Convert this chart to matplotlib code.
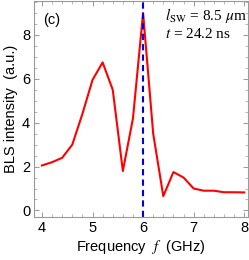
import numpy as np
import matplotlib.pyplot as plt
from matplotlib.ticker import MultipleLocator

# Data
frequencia = [4.0, 4.2, 4.4, 4.6, 4.8, 5.0, 5.2, 5.4, 5.6, 5.8, 6.0,
              6.2, 6.4, 6.6, 6.8, 7.0, 7.2, 7.4, 7.6, 7.8, 8.0]
intensidade = [2.05, 2.2, 2.4, 3.0, 4.4, 5.95, 6.75, 5.5, 1.8, 4.2, 9.0,
               3.5, 0.65, 1.75, 1.5, 1.0, 0.9, 0.9, 0.83, 0.83, 0.82]
f_marcada = 6.0

plt.rcParams['font.family'] = ['Liberation Sans', 'DejaVu Sans']
plt.rcParams['mathtext.fontset'] = 'stix'

fig = plt.figure(figsize=(2.49, 2.60), dpi=100)
ax = fig.add_axes([0.138, 0.167, 0.857, 0.831])

ax.plot(frequencia, intensidade, color='red', lw=1.5)
ax.axvline(f_marcada, color='#0000dd', lw=1.5, ls=(0, (3, 2)))

ax.set_xlim(3.85, 8.07)
ax.set_ylim(-0.28, 9.57)
ax.xaxis.set_major_locator(MultipleLocator(1))
ax.xaxis.set_minor_locator(MultipleLocator(0.2))
ax.yaxis.set_major_locator(MultipleLocator(2))
ax.yaxis.set_minor_locator(MultipleLocator(0.5))

for s in ax.spines.values():
    s.set_color('#999999')
    s.set_linewidth(0.8)
ax.tick_params(which='both', direction='in', top=True, right=True,
               color='#999999', labelsize=10.5, pad=3)
ax.tick_params(which='major', length=3.5, width=0.7)
ax.tick_params(which='minor', length=2, width=0.5)

ax.set_xlabel(r'Frequency  $f$  (GHz)', fontsize=10.5, labelpad=2)
ax.set_ylabel('BLS intensity  (a.u.)', fontsize=10.5, labelpad=3)

ax.text(0.04, 0.91, '(c)', transform=ax.transAxes, fontsize=10.5, va='center')
ax.text(0.61, 0.93, r'$l_{\mathrm{SW}}$ = 8.5 $\mu$m', transform=ax.transAxes,
        fontsize=11, va='center', family='Liberation Serif')
ax.text(0.61, 0.843, r'$t$ = 24.2 ns', transform=ax.transAxes,
        fontsize=11, va='center', family='Liberation Serif')

fig.savefig('out.png', dpi=100)
